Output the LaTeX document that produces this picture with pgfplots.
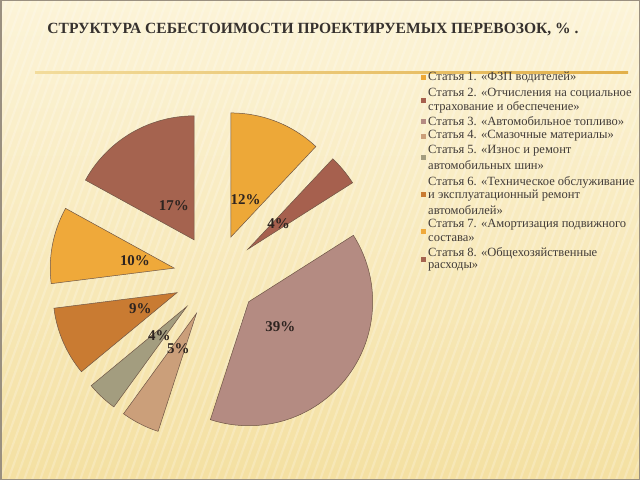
\documentclass[border=0pt]{standalone}
\usepackage{pgfplots}
\pgfplotsset{compat=1.18}
\usepackage{fontspec}
\setmainfont{Liberation Serif}
\definecolor{cA}{HTML}{EDA838}
\definecolor{cB}{HTML}{A6604E}
\definecolor{cC}{HTML}{B48B82}
\definecolor{cD}{HTML}{CB9F7A}
\definecolor{cE}{HTML}{A39D7F}
\definecolor{cF}{HTML}{C97B32}
\definecolor{cG}{HTML}{EFA93A}
\definecolor{cH}{HTML}{A5634F}
\definecolor{edgec}{HTML}{6E5545}
\definecolor{bgtop}{HTML}{FCF4D8}
\definecolor{bgbot}{HTML}{F4E0A2}
\definecolor{titlec}{HTML}{36312E}
\definecolor{legc}{HTML}{423C38}
\definecolor{labc}{HTML}{2E2420}
\definecolor{rulel}{HTML}{F2DC9C}
\definecolor{ruler}{HTML}{E2B04A}
\definecolor{framec}{HTML}{9A9080}
\begin{document}
\begin{tikzpicture}
\useasboundingbox (0,0) rectangle (640bp,480bp);
\shade[top color=bgtop, bottom color=bgbot] (0,0) rectangle (640bp,480bp);
\begin{scope}
\clip (0,0) rectangle (640bp,480bp);
\foreach \k in {-200,-192,...,640} {
  \draw[white, opacity=0.22, line width=2.2bp] (\k bp,0) -- ({(\k+175)*1bp},480bp);
}
\end{scope}
\begin{axis}[
  at={(0,0)}, anchor=south west,
  width=640bp, height=480bp, scale only axis,
  xmin=0, xmax=640, ymin=0, ymax=480,
  axis lines=none, clip=false,
]
% title and rule
\node[font=\bfseries\fontsize{15.6}{19}\selectfont, text=titlec] at (axis cs:313,450) {СТРУКТУРА СЕБЕСТОИМОСТИ ПРОЕКТИРУЕМЫХ ПЕРЕВОЗОК, \% .};
\shade[left color=rulel, right color=ruler] (axis cs:35,406) rectangle (axis cs:628,408.2);

% pie: percentages (clockwise from 12 o'clock)
\def\cx{215.5}\def\cy{204}\def\R{124}\def\D{42}\def\L{82}
\gdef\curang{90}
\foreach \p/\col in {12/cA,4/cB,39/cC,5/cD,4/cE,9/cF,10/cG,17/cH} {
  \pgfmathsetmacro{\aA}{\curang}
  \pgfmathsetmacro{\aB}{\curang - 3.6*\p}
  \pgfmathsetmacro{\mA}{(\aA+\aB)/2}
  \pgfmathsetmacro{\vx}{\cx + \D*cos(\mA)}
  \pgfmathsetmacro{\vy}{\cy + \D*sin(\mA)}
  \pgfmathsetmacro{\lx}{\cx + \L*cos(\mA)}
  \pgfmathsetmacro{\ly}{\cy + \L*sin(\mA)}
  \edef\temp{\noexpand\addplot[fill=\col, draw=edgec, line width=0.5bp, domain=\aB:\aA, samples=60]
    ({\vx+\R*cos(x)},{\vy+\R*sin(x)}) -- (axis cs:\vx,\vy) -- cycle;
    \noexpand\node[font=\noexpand\bfseries\noexpand\fontsize{15}{17}\noexpand\selectfont, text=labc] at (axis cs:\lx,\ly) {\p\noexpand\%};}
  \temp
  \xdef\curang{\aB}
}

% legend
\def\lgx{428}
\foreach \yi/\t in {77/{Статья 1. «ФЗП водителей»},
  94/{Статья 2. «Отчисления на социальное},
  107/{страхование и обеспечение»},
  121/{Статья 3. «Автомобильное топливо»},
  136/{Статья 4. «Смазочные материалы»},
  151/{Статья 5. «Износ и ремонт},
  165/{автомобильных шин»},
  182/{Статья 6. «Техническое обслуживание},
  196/{и эксплуатационный ремонт},
  210/{автомобилей»},
  225/{Статья 7. «Амортизация подвижного},
  239/{состава»},
  253/{Статья 8. «Общехозяйственные},
  267/{расходы»}} {
  \pgfmathsetmacro{\yy}{480 - \yi}
  \edef\temp{\noexpand\node[anchor=west, inner sep=0pt, text=legc, font=\noexpand\fontsize{12.6}{14}\noexpand\selectfont] at (axis cs:\lgx,\yy) {\unexpanded\expandafter{\t}};}
  \temp
}
\foreach \yi/\col in {78/cA,101/cB,122/cC,137/cD,158/cE,195/cF,232/cG,260/cH} {
  \edef\temp{\noexpand\fill[\col] (axis cs:421,{480-\yi-2.5}) rectangle (axis cs:426,{480-\yi+2.5});}
  \temp
}
\end{axis}
\draw[framec, line width=1.5bp] (0.75bp,0.75bp) rectangle (639.25bp,479.25bp);
\end{tikzpicture}
\end{document}
